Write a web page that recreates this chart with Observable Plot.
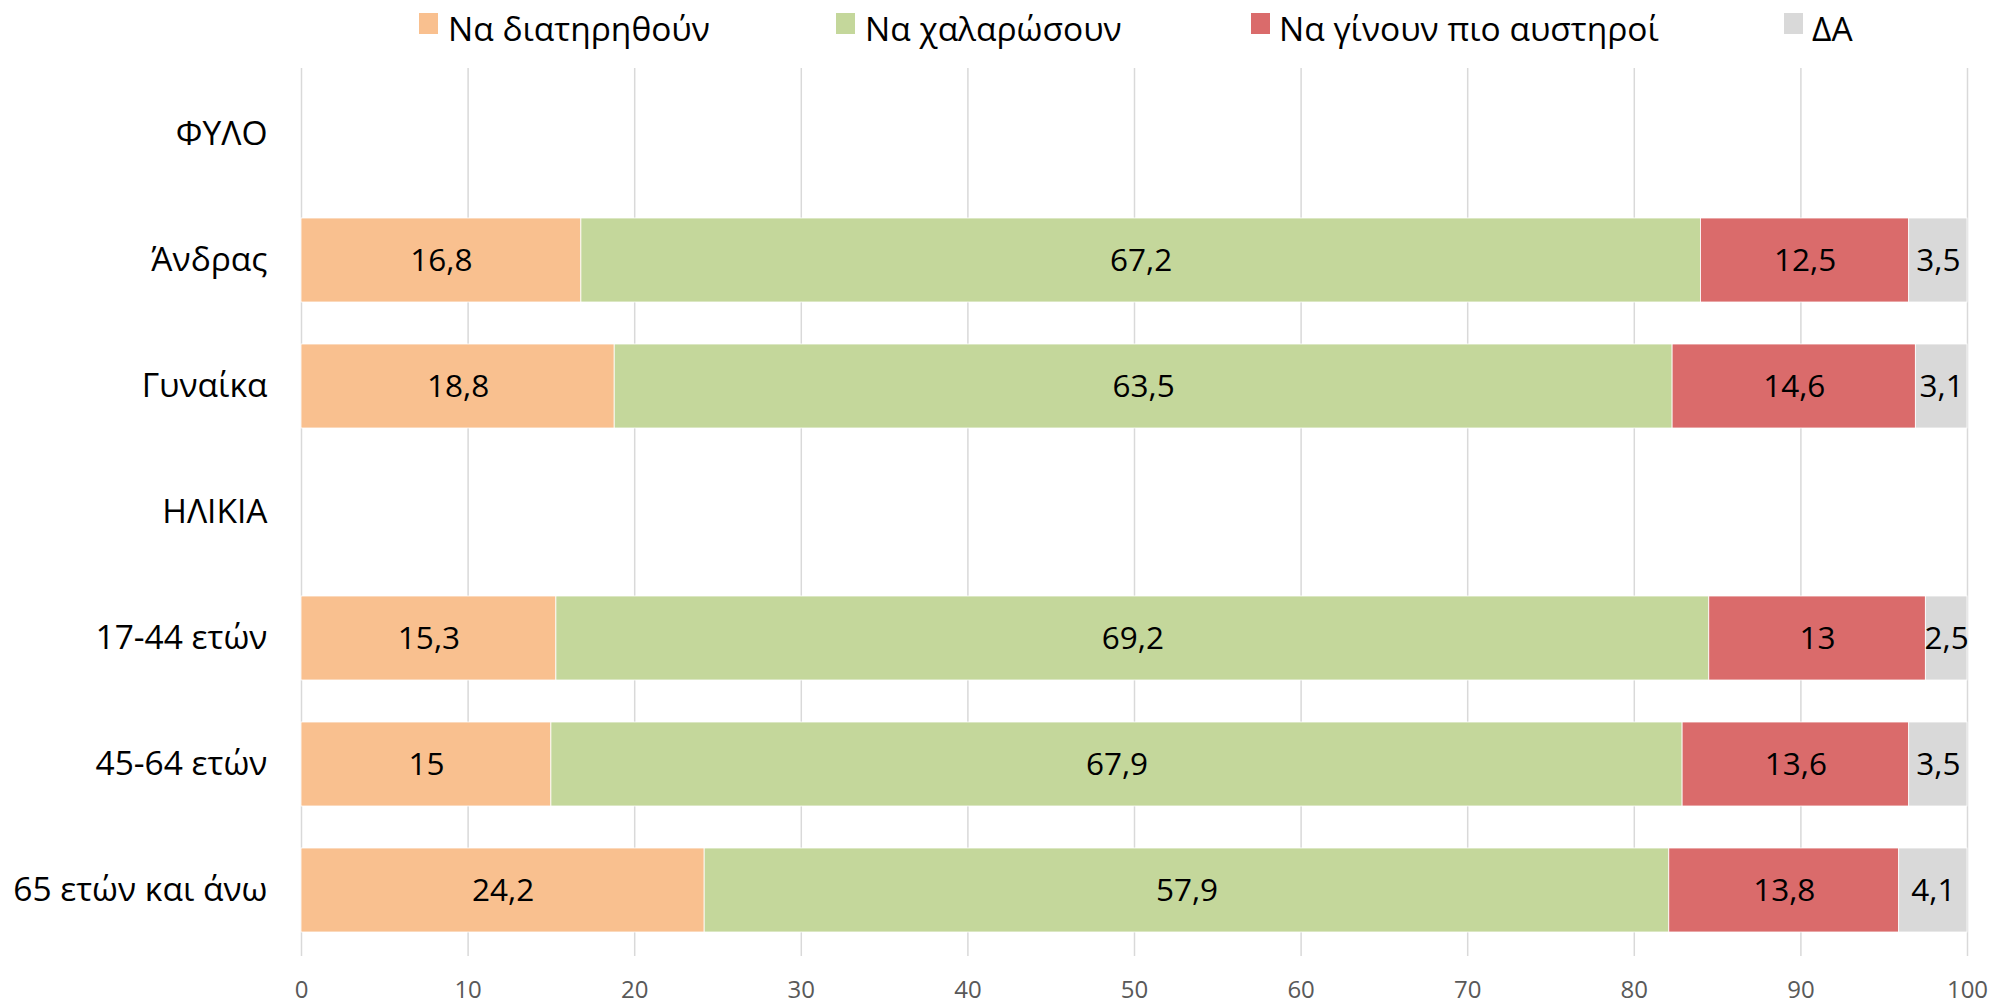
<!DOCTYPE html>
<html>
<head>
<meta charset="utf-8">
<script src="https://cdn.jsdelivr.net/npm/d3@7"></script>
<script src="https://cdn.jsdelivr.net/npm/@observablehq/plot@0.6"></script>
<style>
  html, body { margin: 0; padding: 0; background: #fff; }
  #wrap { position: relative; width: 1993px; height: 1004px; font-family: "Open Sans", sans-serif; }
  .lg { position: absolute; top: 0; height: 56px; display: flex; align-items: center; font-size: 33.5px; color: #000; white-space: nowrap; }
  .sw { position: absolute; top: 13px; width: 19px; height: 21px; }
  #chart { position: absolute; left: 0; top: 0; }
</style>
</head>
<body>
<div id="wrap">
  <div id="legend"></div>
  <div id="chart"></div>
</div>
<script>
const rows = ["ΦΥΛΟ", "Άνδρας", "Γυναίκα", "ΗΛΙΚΙΑ", "17-44 ετών", "45-64 ετών", "65 ετών και άνω"];
const dataRows = ["Άνδρας", "Γυναίκα", "17-44 ετών", "45-64 ετών", "65 ετών και άνω"];
const categories = ["Να διατηρηθούν", "Να χαλαρώσουν", "Να γίνουν πιο αυστηροί", "ΔΑ"];
const colors = ["#F9C08F", "#C4D79B", "#DA6B6B", "#D9D9D9"];
const keep    = [16.8, 18.8, 15.3, 15.0, 24.2];
const relax   = [67.2, 63.5, 69.2, 67.9, 57.9];
const stricter= [12.5, 14.6, 13.0, 13.6, 13.8];
const dk      = [3.5, 3.1, 2.5, 3.5, 4.1];
const xTicks = [0, 10, 20, 30, 40, 50, 60, 70, 80, 90, 100];

const series = [keep, relax, stricter, dk];
const data = [];
dataRows.forEach((r, i) => {
  categories.forEach((c, j) => data.push({group: r, cat: c, value: series[j][i]}));
});
const fmt = v => String(v).replace(".", ",");

// legend (HTML, above chart area)
const legendPos = [
  {sw: 419, tx: 448},
  {sw: 836, tx: 865},
  {sw: 1251, tx: 1279},
  {sw: 1784, tx: 1812}
];
const legend = document.getElementById("legend");
categories.forEach((c, j) => {
  const s = document.createElement("div");
  s.className = "sw";
  s.style.left = legendPos[j].sw + "px";
  s.style.background = colors[j];
  legend.appendChild(s);
  const t = document.createElement("div");
  t.className = "lg";
  t.style.left = legendPos[j].tx + "px";
  t.textContent = c;
  legend.appendChild(t);
});

const chart = Plot.plot({
  width: 1993,
  height: 1004,
  marginTop: 68,
  marginBottom: 48,
  marginLeft: 301,
  marginRight: 26,
  style: {fontFamily: "Open Sans, sans-serif", background: "transparent", overflow: "visible"},
  x: {domain: [0, 100], ticks: xTicks, label: null},
  y: {domain: rows, paddingInner: 0.33, paddingOuter: 0.165, label: null},
  color: {domain: categories, range: colors},
  marks: [
    Plot.gridX(xTicks, {stroke: "#d9d9d9", strokeOpacity: 1, strokeWidth: 1.5}),
    Plot.barX(data, Plot.stackX({x: "value", y: "group", z: "cat", order: categories, fill: "cat", stroke: "white", strokeWidth: 0.8})),
    Plot.textX(data, Plot.stackX({x: "value", y: "group", z: "cat", order: categories, text: d => fmt(d.value), fill: "#000", fontSize: 31.5})),
    Plot.axisX(xTicks, {tickSize: 0, tickPadding: 24, fontSize: 24, fill: "#595959", label: null, tickFormat: d => String(d)}),
    Plot.axisY({tickSize: 0, tickPadding: 34, fontSize: 33.5, fill: "#000", label: null})
  ]
});
document.getElementById("chart").appendChild(chart);
</script>
</body>
</html>
